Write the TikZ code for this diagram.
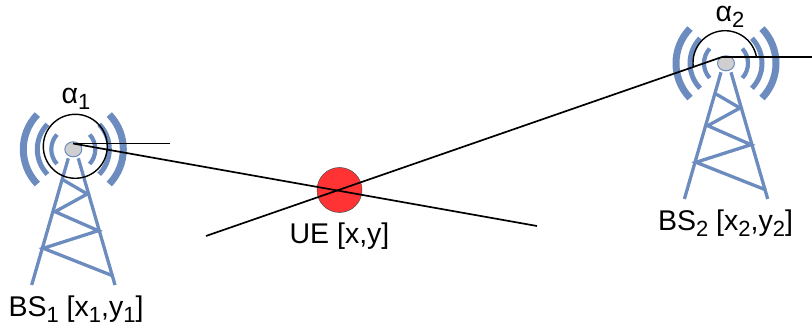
\documentclass[tikz,border=0pt]{standalone}
\usepackage{fontspec}
\setmainfont{Liberation Sans}
\usepackage{xcolor}
\usetikzlibrary{calc,positioning,shapes.geometric}
\definecolor{towerx}{HTML}{6C8CBF}
\definecolor{hubx}{HTML}{CFCFCF}
\definecolor{uex}{HTML}{FF3333}
\newcommand{\sbs}[1]{\raisebox{-0.22em}{\fontsize{22}{22}\selectfont #1}}
\tikzset{
  leg/.style={draw=towerx,line width=3.3pt},
  wave/.style={draw=towerx},
  beam/.style={draw=black,line width=1.7pt},
  angl/.style={draw=black,line width=1.4pt},
  lab/.style={font=\fontsize{28.5}{32}\selectfont,inner sep=0pt}
}
\begin{document}
\begin{tikzpicture}[x=1pt,y=1pt]
\useasboundingbox (0,0) rectangle (812,327);
% both towers, drawn around the hub
\foreach \n/\X/\Y in {1/73.3/177.7,2/726/263.7}{
  \begin{scope}[shift={(\X,\Y)}]
    \draw[leg] (-5,-9)--(-41.6,-135.7) (5,-9)--(41.7,-135.7);
    \draw[leg] (-10,-30.7)--(14,-44.7)--(-18.3,-62.4)--(25,-81.4)--(-30,-99)--(40,-126.7);
    \foreach \r/\w/\a in {22/4.2/42,36/5/44,50/7/44}{
      \draw[wave,line width=\w pt] (180-\a:\r) arc (180-\a:180+\a:\r);
      \draw[wave,line width=\w pt] (-\a:\r) arc (-\a:\a:\r);
    }
    \node[draw=towerx,line width=1pt,fill=hubx,ellipse,minimum width=17pt,minimum height=15pt,inner sep=0pt] (hub\n) at (0,0) {};
  \end{scope}
}
\node[circle,draw=black!70,line width=0.5pt,fill=uex,minimum size=45pt,inner sep=0pt] (ue) at (339.5,137) {};
\coordinate (o1) at (73,183.5);
\coordinate (o2) at (722,270);
\coordinate (end1) at (537,101);
\coordinate (end2) at (206,91);
\coordinate (ref1) at (170,183.5);
\coordinate (ref2) at (812,270);
\draw[beam] (o1)--(end1);
\draw[beam] (o2)--(end2);
\draw[beam] (o1)--(ref1);
\draw[beam] (o2)--(ref2);
\draw[angl] (75.3,180.7) circle (32);
\draw[angl] ($(725,264.3)+(10:32)$) arc (10:187:32);
\node[lab] (a1) at (76,228) {α\sbs{1}};
\node[lab] (a2) at (730,310) {α\sbs{2}};
\node[lab] (ueL) at (339.5,91) {UE [x,y]};
\node[lab] (bs1L) at (76,18) {BS\sbs{1} [x\sbs{1},y\sbs{1}]};
\node[lab] (bs2L) at (725.5,104) {BS\sbs{2} [x\sbs{2},y\sbs{2}]};
\end{tikzpicture}
\end{document}
